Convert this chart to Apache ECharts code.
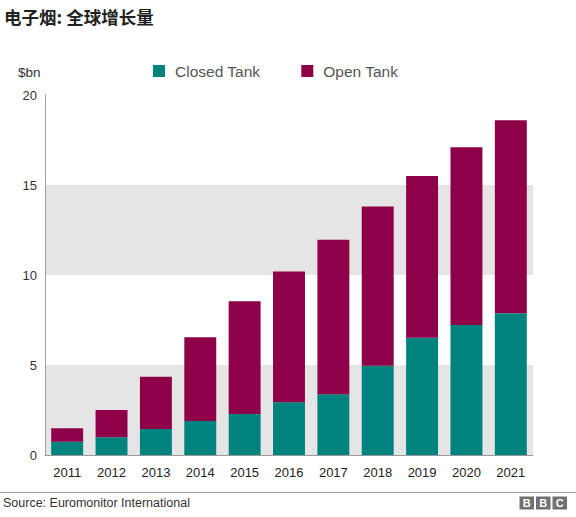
<!DOCTYPE html>
<html>
<head>
<meta charset="utf-8">
<title>电子烟: 全球增长量</title>
<script src="https://cdn.jsdelivr.net/npm/echarts@6/dist/echarts.min.js"></script>
<style>
    html, body { margin: 0; padding: 0; background: #fff; }
    #main { width: 576px; height: 517px; }
</style>
</head>
<body>
<div id="main"></div>
<script>
var years = ['2011', '2012', '2013', '2014', '2015', '2016', '2017', '2018', '2019', '2020', '2021'];
var closedTank = [0.74, 0.98, 1.44, 1.89, 2.28, 2.93, 3.37, 4.96, 6.52, 7.22, 7.87];
var openTank = [0.74, 1.52, 2.91, 4.65, 6.26, 7.26, 8.59, 8.84, 8.98, 9.88, 10.73];
var yTicks = [0, 5, 10, 15, 20];

var font = '"Liberation Sans", Arial, Helvetica, sans-serif';
var cjkFont = '"Noto Sans CJK SC", "Liberation Sans", sans-serif';

var myChart = echarts.init(document.getElementById('main'), null, {renderer: 'svg'});

// BBC logo blocks
var logo = [];
var letters = ['B', 'B', 'C'];
for (var i = 0; i < letters.length; i++) {
    logo.push({
        type: 'rect',
        shape: {x: 519.5 + i * 16.5, y: 496.5, width: 14.5, height: 13},
        style: {fill: '#707070'}
    });
    logo.push({
        type: 'text',
        x: 519.5 + i * 16.5 + 7.25,
        y: 503,
        style: {text: letters[i], fill: '#fff', font: 'bold 11px ' + font, align: 'center', verticalAlign: 'middle'}
    });
}

var option = {
    animation: false,
    title: {
        text: '电子烟: 全球增长量',
        left: 4,
        top: 8,
        padding: 0,
        textStyle: {fontFamily: cjkFont, fontSize: 17.5, fontWeight: 'bold', color: '#222'}
    },
    legend: {
        data: ['Closed Tank', 'Open Tank'],
        left: 153,
        top: 63,
        padding: 0,
        icon: 'rect',
        itemWidth: 12,
        itemHeight: 12,
        itemGap: 41,
        textStyle: {fontFamily: font, fontSize: 15.5, color: '#555', padding: [0, 0, 0, 5]}
    },
    grid: {left: 45, right: 43, top: 95, bottom: 62},
    xAxis: {
        type: 'category',
        data: years,
        axisLine: {lineStyle: {color: '#9a9a9a', width: 1}},
        axisTick: {show: false},
        axisLabel: {fontFamily: font, fontSize: 13, color: '#222', margin: 11}
    },
    yAxis: {
        type: 'value',
        min: yTicks[0],
        max: yTicks[yTicks.length - 1],
        interval: yTicks[1] - yTicks[0],
        axisLine: {show: true, lineStyle: {color: '#a0a0a0', width: 1}},
        axisTick: {show: false},
        splitLine: {show: false},
        splitArea: {show: true, areaStyle: {color: ['#e5e5e5', '#ffffff']}},
        axisLabel: {fontFamily: font, fontSize: 13, color: '#333', margin: 8, padding: [8, 0, 0, 0]}
    },
    series: [
        {
            name: 'Closed Tank',
            type: 'bar',
            stack: 'total',
            barWidth: '72%',
            data: closedTank,
            itemStyle: {color: '#00837f'}
        },
        {
            name: 'Open Tank',
            type: 'bar',
            stack: 'total',
            barWidth: '72%',
            data: openTank,
            itemStyle: {color: '#8e0047'}
        }
    ],
    graphic: [
        {
            type: 'text',
            x: 18,
            y: 72,
            style: {text: '$bn', fill: '#333', font: '13.5px ' + font, verticalAlign: 'middle'}
        },
        {
            type: 'line',
            shape: {x1: 0, y1: 492.5, x2: 576, y2: 492.5},
            style: {stroke: '#9a9a9a', lineWidth: 1}
        },
        {
            type: 'text',
            x: 3,
            y: 503,
            style: {text: 'Source: Euromonitor International', fill: '#333', font: '12.5px ' + font, verticalAlign: 'middle'}
        }
    ].concat(logo)
};

myChart.setOption(option);
</script>
</body>
</html>
